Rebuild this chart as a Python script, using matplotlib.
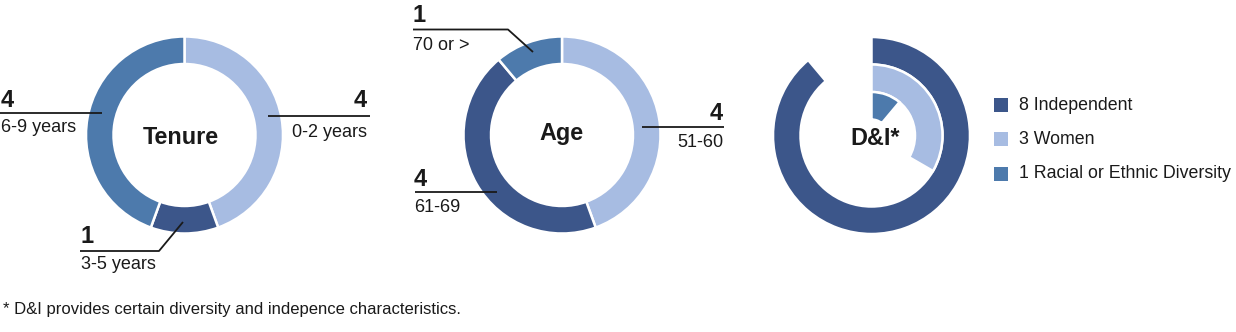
import matplotlib
matplotlib.use("Agg")
import matplotlib.pyplot as plt
from matplotlib.patches import Rectangle

plt.rcParams["font.family"] = ["Liberation Sans", "DejaVu Sans"]

# Board composition data
tenure_labels = ["0-2 years", "3-5 years", "6-9 years"]
tenure_values = [4, 1, 4]

age_labels = ["51-60", "61-69", "70 or >"]
age_values = [4, 4, 1]

dni_labels = ["Independent", "Women", "Racial or Ethnic Diversity"]
dni_values = [8, 3, 1]
board_size = 9

footnote = "* D&I provides certain diversity and indepence characteristics."

# Palette
DARK = "#3c568a"
LIGHT = "#a7bce2"
MID = "#4d7aac"
INK = "#1a1a1a"

W, H = 1236, 332
fig = plt.figure(figsize=(W / 100, H / 100), dpi=100)
ax = fig.add_axes([0, 0, 1, 1])


def Y(p):
    """Convert a top-down pixel row into the axes' bottom-up coordinate."""
    return H - p


R = 98.5
RING = 27.5
EDGE = dict(edgecolor="white", linewidth=1.8)

# Tenure donut
ax.pie(tenure_values, colors=[LIGHT, DARK, MID], startangle=90, counterclock=False,
       center=(184.5, Y(135)), radius=R, wedgeprops=dict(width=RING, **EDGE))

# Age donut
ax.pie(age_values, colors=[LIGHT, DARK, MID], startangle=90, counterclock=False,
       center=(562, Y(135)), radius=R, wedgeprops=dict(width=RING, **EDGE))

# D&I concentric rings, each a share of the full board
dni_colors = [DARK, LIGHT, MID]
for i, (v, c) in enumerate(zip(dni_values, dni_colors)):
    wedges, _ = ax.pie([v, board_size - v], colors=[c, "white"], startangle=90,
                       counterclock=False, center=(871.5, Y(135.5)),
                       radius=R - i * RING, wedgeprops=dict(width=RING, **EDGE))
    wedges[1].set_visible(False)

ax.set_xlim(0, W)
ax.set_ylim(0, H)
ax.set_aspect("equal")
ax.axis("off")

NUM = dict(fontsize=17, fontweight="bold", color=INK, va="baseline")
LAB = dict(fontsize=13, color=INK, va="baseline")
LINE = dict(color=INK, linewidth=1.3, solid_capstyle="butt")


def callout(value, label, pts, x_text, y_num, y_lab, ha):
    xs, ys = zip(*pts)
    ax.plot(xs, [Y(y) for y in ys], **LINE)
    ax.text(x_text, Y(y_num), str(value), ha=ha, **NUM)
    ax.text(x_text, Y(y_lab), label, ha=ha, **LAB)


# Tenure callouts
callout(tenure_values[0], tenure_labels[0], [(268, 116), (370, 116)], 367, 107, 137, "right")
callout(tenure_values[1], tenure_labels[1], [(80, 251), (159, 251), (183, 222)], 81, 243, 269, "left")
callout(tenure_values[2], tenure_labels[2], [(0, 113), (102, 113)], 1, 107, 132, "left")

# Age callouts
callout(age_values[0], age_labels[0], [(642, 127), (724, 127)], 723, 120, 147, "right")
callout(age_values[1], age_labels[1], [(415, 192), (497, 192)], 414, 186, 212, "left")
callout(age_values[2], age_labels[2], [(413, 29.5), (508, 29.5), (533, 52)], 413, 22, 50, "left")

# Centre titles
TITLE = dict(fontsize=16.8, fontweight="bold", color=INK, ha="center", va="baseline")
ax.text(181, Y(144), "Tenure", **TITLE)
ax.text(561.5, Y(140), "Age", **TITLE)
ax.text(875, Y(145), "D&I*", **TITLE)

# Legend for the D&I rings
for v, name, c, yc in zip(dni_values, dni_labels, dni_colors, [105, 139, 174]):
    ax.add_patch(Rectangle((994, Y(yc) - 7), 14, 14, facecolor=c, edgecolor="none"))
    ax.text(1019, Y(yc), f"{v} {name}", fontsize=12.8, color=INK, ha="left", va="center")

ax.text(3, Y(314), footnote, fontsize=12, color=INK, ha="left", va="baseline")

fig.savefig("out.png", dpi=100)
